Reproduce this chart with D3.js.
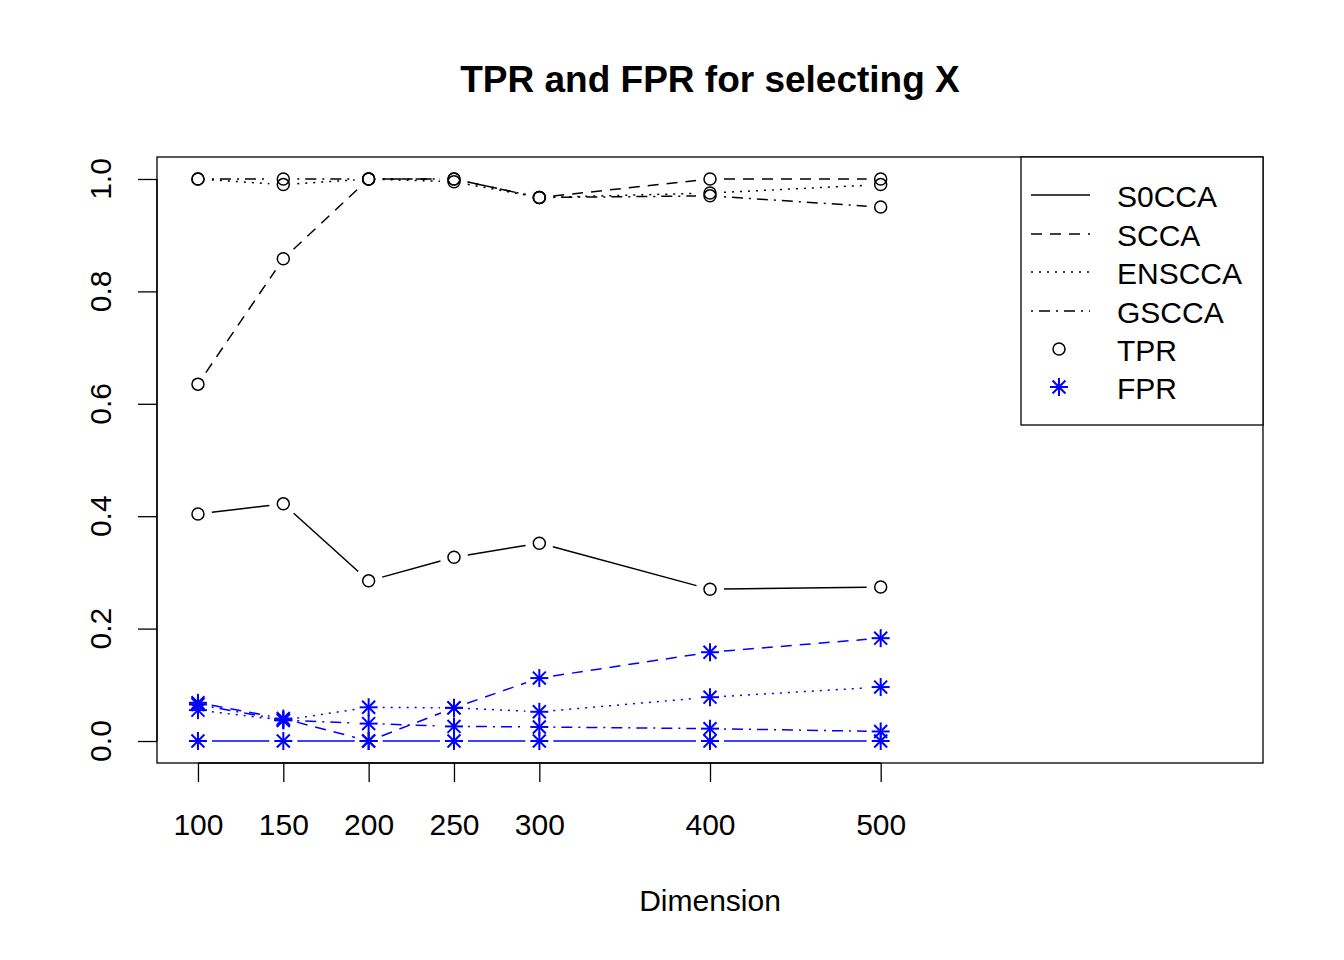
<!DOCTYPE html>
<html><head><meta charset="utf-8">
<script src="https://cdn.jsdelivr.net/npm/d3@7"></script>
<style>body{margin:0;background:#fff}svg{font-family:"Liberation Sans",Arial,sans-serif}</style>
</head><body><svg id="c" width="1344" height="960"></svg>
<script>
const dims = [100,150,200,250,300,400,500];
const methods = ["S0CCA","SCCA","ENSCCA","GSCCA"];
const dashes = [null,"11,8","2,6","2,6,11,6"];
const tprS0CCA = [0.404,0.422,0.285,0.327,0.352,0.270,0.274];
const tprSCCA  = [0.635,0.858,1.0,1.0,0.967,1.0,1.0];
const tprENSCCA= [1.0,0.99,1.0,0.995,0.967,0.975,0.99];
const tprGSCCA = [1.0,1.0,1.0,1.0,0.967,0.97,0.95];
const fprS0CCA = [0,0,0,0,0,0,0];
const fprSCCA  = [0.068,0.04,0.0,0.059,0.112,0.158,0.183];
const fprENSCCA= [0.055,0.037,0.06,0.059,0.052,0.078,0.096];
const fprGSCCA = [0.065,0.037,0.031,0.026,0.025,0.022,0.017];
const tpr=[tprS0CCA,tprSCCA,tprENSCCA,tprGSCCA], fpr=[fprS0CCA,fprSCCA,fprENSCCA,fprGSCCA];
const yTicks=[0,0.2,0.4,0.6,0.8,1.0];

const svg=d3.select("#c");
const x=d3.scaleLinear().domain([76,724]).range([157,1263]);
const y=d3.scaleLinear().domain([-0.04,1.04]).range([763.5,156.5]);
svg.append("rect").attr("x",157).attr("y",157).attr("width",1106).attr("height",606).attr("fill","none").attr("stroke","#000").attr("stroke-width",1.3);
svg.append("text").attr("x",710).attr("y",92).attr("text-anchor","middle").attr("font-size",37).attr("font-weight","bold").text("TPR and FPR for selecting X");
svg.append("text").attr("x",710).attr("y",911).attr("text-anchor","middle").attr("font-size",30).text("Dimension");
const xa=svg.append("g").attr("transform","translate(0,763)").call(d3.axisBottom(x).tickValues(dims).tickSize(19).tickSizeOuter(0).tickFormat(d3.format("d")));
xa.select(".domain").attr("d",`M${x(100)},0H${x(500)}`).attr("stroke-width",1.3);
xa.selectAll("line").attr("stroke-width",1.3);
xa.selectAll("text").attr("font-size",30).attr("font-family","Liberation Sans, Arial").attr("dy","1.65em");
const ya=svg.append("g").attr("transform","translate(157,0)").call(d3.axisLeft(y).tickValues(yTicks).tickSize(19).tickSizeOuter(0).tickFormat(d3.format(".1f")));
ya.select(".domain").attr("d",`M0,${y(0)}V${y(1)}`).attr("stroke-width",1.3);
ya.selectAll("line").attr("stroke-width",1.3);
ya.selectAll("text").remove();
yTicks.forEach(t=>svg.append("text").attr("transform",`translate(111,${y(t)}) rotate(-90)`).attr("text-anchor","middle").attr("font-size",30).text(d3.format(".1f")(t)));

function star(g,cx,cy){const r=9;[[0,r],[r,0],[r*0.72,r*0.72],[r*0.72,-r*0.72]].forEach(([a,b])=>g.append("line").attr("x1",cx-a).attr("y1",cy-b).attr("x2",cx+a).attr("y2",cy+b).attr("stroke","#00f").attr("stroke-width",2));}
methods.forEach((m,k)=>{
  [[tpr[k],"#000"],[fpr[k],"#00f"]].forEach(([vals,col])=>{
    for(let i=0;i<vals.length-1;i++){
      const x1=x(dims[i]),y1=y(vals[i]),x2=x(dims[i+1]),y2=y(vals[i+1]);
      const L=Math.hypot(x2-x1,y2-y1),g=14;
      if(L<2*g) continue;
      const ux=(x2-x1)/L,uy=(y2-y1)/L;
      svg.append("line").attr("x1",x1+ux*g).attr("y1",y1+uy*g).attr("x2",x2-ux*g).attr("y2",y2-uy*g)
        .attr("stroke",col).attr("stroke-width",1.5).attr("stroke-dasharray",dashes[k]);
    }
  });
  tpr[k].forEach((v,i)=>svg.append("circle").attr("cx",x(dims[i])).attr("cy",y(v)).attr("r",6).attr("fill","none").attr("stroke","#000").attr("stroke-width",1.5));
  fpr[k].forEach((v,i)=>star(svg,x(dims[i]),y(v)));
});
svg.append("rect").attr("x",1021).attr("y",157).attr("width",242).attr("height",268).attr("fill","#fff").attr("stroke","#000").attr("stroke-width",1.3);
const legY=[197,236,274,313,351,389];
methods.forEach((m,k)=>{
  svg.append("line").attr("x1",1031).attr("x2",1090).attr("y1",legY[k]-2).attr("y2",legY[k]-2).attr("stroke","#000").attr("stroke-width",1.5).attr("stroke-dasharray",dashes[k]);
  svg.append("text").attr("x",1117).attr("y",legY[k]+10).attr("font-size",30).text(m);
});
svg.append("circle").attr("cx",1059).attr("cy",legY[4]-2).attr("r",6).attr("fill","none").attr("stroke","#000").attr("stroke-width",1.5);
svg.append("text").attr("x",1117).attr("y",legY[4]+10).attr("font-size",30).text("TPR");
star(svg,1059,legY[5]-2);
svg.append("text").attr("x",1117).attr("y",legY[5]+10).attr("font-size",30).text("FPR");
</script></body></html>
